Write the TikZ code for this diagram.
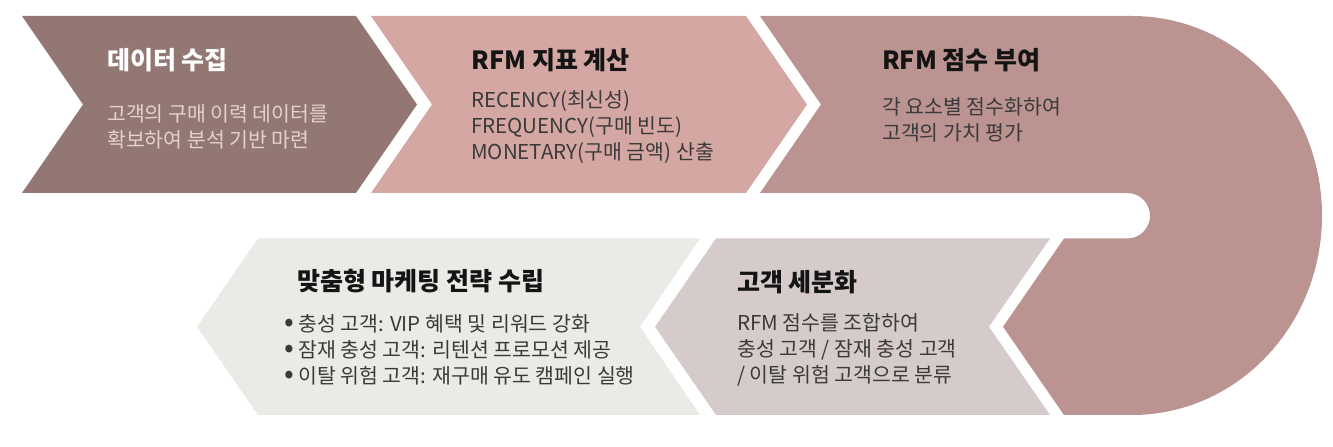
\documentclass[tikz,border=0pt]{standalone}
\usepackage{graphicx}
\usepackage{fontspec}
\setmainfont{Noto Sans CJK KR}
\definecolor{cA}{HTML}{937773}
\definecolor{cB}{HTML}{D5A7A3}
\definecolor{cC}{HTML}{BB9491}
\definecolor{cD}{HTML}{EBEAE6}
\definecolor{cE}{HTML}{D5CBCA}
\definecolor{txtlight}{HTML}{E3D2CF}
\definecolor{txtdark}{HTML}{3A3A3A}
\definecolor{ttldark}{HTML}{141414}
\newcommand{\mybul}{\makebox[18pt][c]{\scalebox{1.4}{•}}}
\begin{document}
\begin{tikzpicture}[x=1pt,y=1pt,
  ttl/.style={anchor=base west, inner sep=0pt, font=\fontsize{25}{30}\selectfont\bfseries, text=ttldark},
  bodytxt/.style={anchor=base west, inner sep=0pt, align=left, font=\fontsize{20.5}{26}\selectfont, text=txtdark}]
\useasboundingbox (0,0) rectangle (1333,447);
% top row
\fill[cA] (22,431) -- (356,431) -- (417,342.5) -- (356,254) -- (22,254) -- (83,342.5) -- cycle;
\fill[cB] (371,431) -- (746,431) -- (807,342.5) -- (746,254) -- (371,254) -- (432,342.5) -- cycle;
% U-turn shape
\fill[cC] (760,431) -- (1132,431)
  arc[start angle=90, end angle=-90, x radius=190pt, y radius=199.5pt]
  -- (1064,32) -- (1003,120.25) -- (1064,208.5) -- (1127.25,208.5)
  arc[start angle=-90, end angle=90, radius=22.75pt]
  -- (760,254) -- (821,342.5) -- cycle;
% bottom row
\fill[cD] (197,120.25) -- (258,208.5) -- (700,208.5) -- (640,120.25) -- (700,32) -- (258,32) -- cycle;
\fill[cE] (655,120.25) -- (716,208.5) -- (1050,208.5) -- (989,120.25) -- (1050,32) -- (716,32) -- cycle;
% texts (base anchor of a multi-line node = baseline of its last line)
\node[ttl, text=white] (t1) at (107,377.6) {데이터 수집};
\node[bodytxt, text=txtlight] (b1) at (107,299.3) {고객의 구매 이력 데이터를\\확보하여 분석 기반 마련};
\node[ttl] (t2) at (471.5,377.5) {RFM 지표 계산};
\node[bodytxt] (b2) at (471,287.5) {RECENCY(최신성)\\FREQUENCY(구매 빈도)\\MONETARY(구매 금액) 산출};
\node[ttl] (t3) at (882,377.5) {RFM 점수 부여};
\node[bodytxt] (b3) at (882,306) {각 요소별 점수화하여\\고객의 가치 평가};
\node[ttl] (t4) at (297,156.2) {맞춤형 마케팅 전략 수립};
\node[bodytxt] (b4) at (280,63.3) {\mybul 충성 고객: VIP 혜택 및 리워드 강화\\\mybul 잠재 충성 고객: 리텐션 프로모션 제공\\\mybul 이탈 위험 고객: 재구매 유도 캠페인 실행};
\node[ttl] (t5) at (737,155.7) {고객 세분화};
\node[bodytxt] (b5) at (737,64.1) {RFM 점수를 조합하여\\충성 고객 / 잠재 충성 고객\\/ 이탈 위험 고객으로 분류};
\end{tikzpicture}
\end{document}
